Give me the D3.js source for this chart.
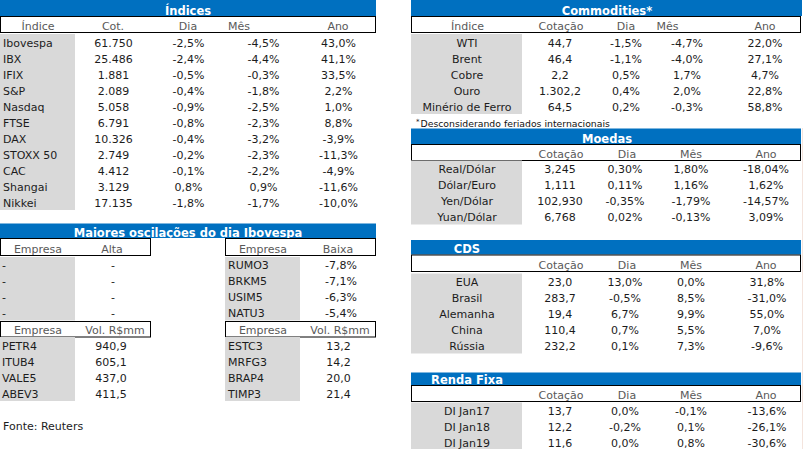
<!DOCTYPE html>
<html><head><meta charset="utf-8">
<script src="https://cdn.jsdelivr.net/npm/d3@7"></script>
<style>
body{margin:0;background:#fff}
svg{display:block}
text{font-family:"DejaVu Sans",Verdana,sans-serif}
</style></head>
<body>
<svg id="c" width="803" height="449"></svg>
<script>
// ---------- DATA ----------
const indicesHeaders = ["Índice","Cot.","Dia","Mês","Ano"];
const indicesLabels = ["Ibovespa","IBX","IFIX","S&P","Nasdaq","FTSE","DAX","STOXX 50","CAC","Shangai","Nikkei"];
const indicesCot = [61750,25486,1881,2089,5058,6791,10326,2749,4412,3129,17135];
const indicesDia = [-2.5,-2.4,-0.5,-0.4,-0.9,-0.8,-0.4,-0.2,-0.1,0.8,-1.8];
const indicesMes = [-4.5,-4.4,-0.3,-1.8,-2.5,-2.3,-3.2,-2.3,-2.2,0.9,-1.7];
const indicesAno = [43.0,41.1,33.5,2.2,1.0,8.8,-3.9,-11.3,-4.9,-11.6,-10.0];

const oscTitle = "Maiores oscilações do dia Ibovespa";
const altaHeaders = ["Empresa","Alta"];
const altaEmpresas = ["-","-","-","-"];
const altaValores = [null,null,null,null];
const baixaHeaders = ["Empresa","Baixa"];
const baixaEmpresas = ["RUMO3","BRKM5","USIM5","NATU3"];
const baixaValores = [-7.8,-7.1,-6.3,-5.4];
const volHeaders = ["Empresa","Vol. R$mm"];
const volLeftEmpresas = ["PETR4","ITUB4","VALE5","ABEV3"];
const volLeftValores = [940.9,605.1,437.0,411.5];
const volRightEmpresas = ["ESTC3","MRFG3","BRAP4","TIMP3"];
const volRightValores = [13.2,14.2,20.0,21.4];
const fonte = "Fonte: Reuters";

const commodHeaders = ["Índice","Cotação","Dia","Mês","Ano"];
const commodLabels = ["WTI","Brent","Cobre","Ouro","Minério de Ferro"];
const commodCot = [44.7,46.4,2.2,1302.2,64.5];
const commodDia = [-1.5,-1.1,0.5,0.4,0.2];
const commodMes = [-4.7,-4.0,1.7,2.0,-0.3];
const commodAno = [22.0,27.1,4.7,22.8,58.8];
const commodNote = "Desconsiderando feriados internacionais";

const moedasHeaders = ["","Cotação","Dia","Mês","Ano"];
const moedasLabels = ["Real/Dólar","Dólar/Euro","Yen/Dólar","Yuan/Dólar"];
const moedasCot = [3.245,1.111,102.930,6.768];
const moedasDia = [0.30,0.11,-0.35,0.02];
const moedasMes = [1.80,1.16,-1.79,-0.13];
const moedasAno = [-18.04,1.62,-14.57,3.09];

const cdsHeaders = ["","Cotação","Dia","Mês","Ano"];
const cdsLabels = ["EUA","Brasil","Alemanha","China","Rússia"];
const cdsCot = [23.0,283.7,19.4,110.4,232.2];
const cdsDia = [13.0,-0.5,6.7,0.7,0.1];
const cdsMes = [0.0,8.5,9.9,5.5,7.3];
const cdsAno = [31.8,-31.0,55.0,7.0,-9.6];

const rendaHeaders = ["","Cotação","Dia","Mês","Ano"];
const rendaLabels = ["DI Jan17","DI Jan18","DI Jan19"];
const rendaCot = [13.7,12.2,11.6];
const rendaDia = [0.0,-0.2,0.0];
const rendaMes = [-0.1,0.1,0.8];
const rendaAno = [-13.6,-26.1,-30.6];

// ---------- STYLE / FORMAT ----------
const BLUE = "#0070c0", GRAY = "#d9d9d9", HEAD = "#595959", BODY = "#1c1c1c";
const loc = d3.formatLocale({decimal:",", thousands:".", grouping:[3], currency:["R$",""], minus:"-"});
const fInt = loc.format(",.0f"), f1 = loc.format(",.1f"), f3 = loc.format(",.3f");
const p1 = v => v == null ? "-" : loc.format(".1f")(v) + "%";
const p2 = v => loc.format(".2f")(v) + "%";

const svg = d3.select("#c");

function bar(x0, x1, y0, y1, label, tx, anchor) {
  svg.append("rect").attr("x", x0).attr("y", y0).attr("width", x1 - x0).attr("height", y1 - y0).attr("fill", BLUE);
  svg.append("text").attr("x", tx).attr("y", y1 - 1.5).attr("text-anchor", anchor || "middle")
    .attr("font-size", 11.5).attr("font-weight", "bold").attr("fill", "#fff").text(label);
}
function headBox(x0, x1, y0, y1, labels, xs) {
  svg.append("rect").attr("x", x0 + 0.5).attr("y", y0 + 0.5).attr("width", x1 - x0 - 1).attr("height", y1 - y0 - 1)
    .attr("fill", "#fff").attr("stroke", "#000").attr("stroke-width", 1);
  svg.selectAll(null).data(labels).enter().append("text")
    .attr("x", (d, i) => xs[i]).attr("y", y1 - 3.5).attr("text-anchor", "middle")
    .attr("font-size", 11).attr("fill", HEAD).text(d => d);
}
function body(labels, cols, fmts, cfg) {
  const y = d3.scaleBand().domain(d3.range(labels.length)).range([cfg.top, cfg.bottom]);
  svg.append("rect").attr("x", cfg.gx0).attr("y", cfg.top).attr("width", cfg.gx1 - cfg.gx0)
    .attr("height", cfg.bottom - cfg.top).attr("fill", GRAY);
  const off = y.bandwidth() / 2 + 4.5;
  svg.selectAll(null).data(labels).enter().append("text")
    .attr("x", cfg.labelX).attr("y", (d, i) => y(i) + off).attr("text-anchor", cfg.labelAnchor)
    .attr("font-size", 11).attr("fill", BODY).text(d => d);
  cols.forEach((col, c) => {
    svg.selectAll(null).data(col).enter().append("text")
      .attr("x", cfg.colXs[c]).attr("y", (d, i) => y(i) + off).attr("text-anchor", "middle")
      .attr("font-size", 11).attr("fill", BODY).text(d => fmts[c](d));
  });
}

// ---------- ÍNDICES ----------
bar(0, 376, 0, 16, "Índices", 188);
headBox(0, 376, 16, 33, indicesHeaders, [38, 113, 188, 239, 338]);
body(indicesLabels, [indicesCot, indicesDia, indicesMes, indicesAno], [fInt, p1, p1, p1],
  {top: 34, bottom: 210, gx0: 0, gx1: 75, labelX: 3, labelAnchor: "start", colXs: [113.5, 188.5, 263.5, 338.5]});

// ---------- MAIORES OSCILAÇÕES ----------
bar(0, 376, 223.5, 238, oscTitle, 188);
headBox(0, 151, 238, 256, altaHeaders, [38, 112]);
headBox(225, 376, 238, 256, baixaHeaders, [263, 338]);
body(altaEmpresas, [altaValores], [p1],
  {top: 257, bottom: 320.5, gx0: 0, gx1: 75, labelX: 2, labelAnchor: "start", colXs: [113]});
body(baixaEmpresas, [baixaValores], [p1],
  {top: 257, bottom: 320.5, gx0: 225, gx1: 300, labelX: 228, labelAnchor: "start", colXs: [341]});
headBox(0, 151, 321, 337.5, volHeaders, [38, 115]);
headBox(225, 376, 321, 337.5, volHeaders, [263, 340]);
body(volLeftEmpresas, [volLeftValores], [f1],
  {top: 337, bottom: 401, gx0: 0, gx1: 75, labelX: 2, labelAnchor: "start", colXs: [111]});
body(volRightEmpresas, [volRightValores], [f1],
  {top: 337, bottom: 401, gx0: 225, gx1: 300, labelX: 228, labelAnchor: "start", colXs: [338.5]});
svg.append("text").attr("x", 3).attr("y", 430).attr("font-size", 11).attr("fill", BODY).text(fonte);

// ---------- COMMODITIES ----------
bar(411, 802, 0, 16, "Commodities*", 607);
headBox(411, 801, 16, 33, commodHeaders, [467.5, 561, 626, 667.5, 765]);
body(commodLabels, [commodCot, commodDia, commodMes, commodAno], [f1, p1, p1, p1],
  {top: 34, bottom: 114, gx0: 411, gx1: 522, labelX: 467, labelAnchor: "middle", colXs: [560, 626, 687, 765]});
const note = svg.append("text").attr("x", 416).attr("y", 126.5).attr("font-family", "'Liberation Sans',Arial,sans-serif")
  .attr("font-size", 9.3).attr("fill", "#111");
note.append("tspan").attr("font-size", 7).attr("dy", -3).text("*");
note.append("tspan").attr("dy", 3).attr("dx", 1).text(commodNote);

// ---------- MOEDAS ----------
bar(411, 801, 128.5, 144, "Moedas", 607);
headBox(411, 801, 144, 161, moedasHeaders, [467, 561, 627, 691, 766]);
body(moedasLabels, [moedasCot, moedasDia, moedasMes, moedasAno], [f3, p2, p2, p2],
  {top: 160.5, bottom: 224.5, gx0: 411, gx1: 522, labelX: 467, labelAnchor: "middle", colXs: [560, 625, 691, 766]});

// ---------- CDS ----------
bar(411, 801, 240, 254.5, "CDS", 467);
headBox(411, 801, 254.5, 272, cdsHeaders, [467, 561, 627, 691, 766]);
body(cdsLabels, [cdsCot, cdsDia, cdsMes, cdsAno], [f1, p1, p1, p1],
  {top: 273.5, bottom: 353.5, gx0: 411, gx1: 522, labelX: 467, labelAnchor: "middle", colXs: [560, 625, 691, 767]});

// ---------- RENDA FIXA ----------
bar(411, 801, 372.5, 385, "Renda Fixa", 467);
headBox(411, 801, 385, 402, rendaHeaders, [467, 561, 627, 691, 766]);
body(rendaLabels, [rendaCot, rendaDia, rendaMes, rendaAno], [f1, p1, p1, p1],
  {top: 402.5, bottom: 450.5, gx0: 411, gx1: 522, labelX: 467, labelAnchor: "middle", colXs: [560, 625, 691, 767]});

svg.append("line").attr("x1", 802.5).attr("x2", 802.5).attr("y1", 128).attr("y2", 449)
  .attr("stroke", "#f4e4dd").attr("stroke-width", 1);
</script>
</body></html>
